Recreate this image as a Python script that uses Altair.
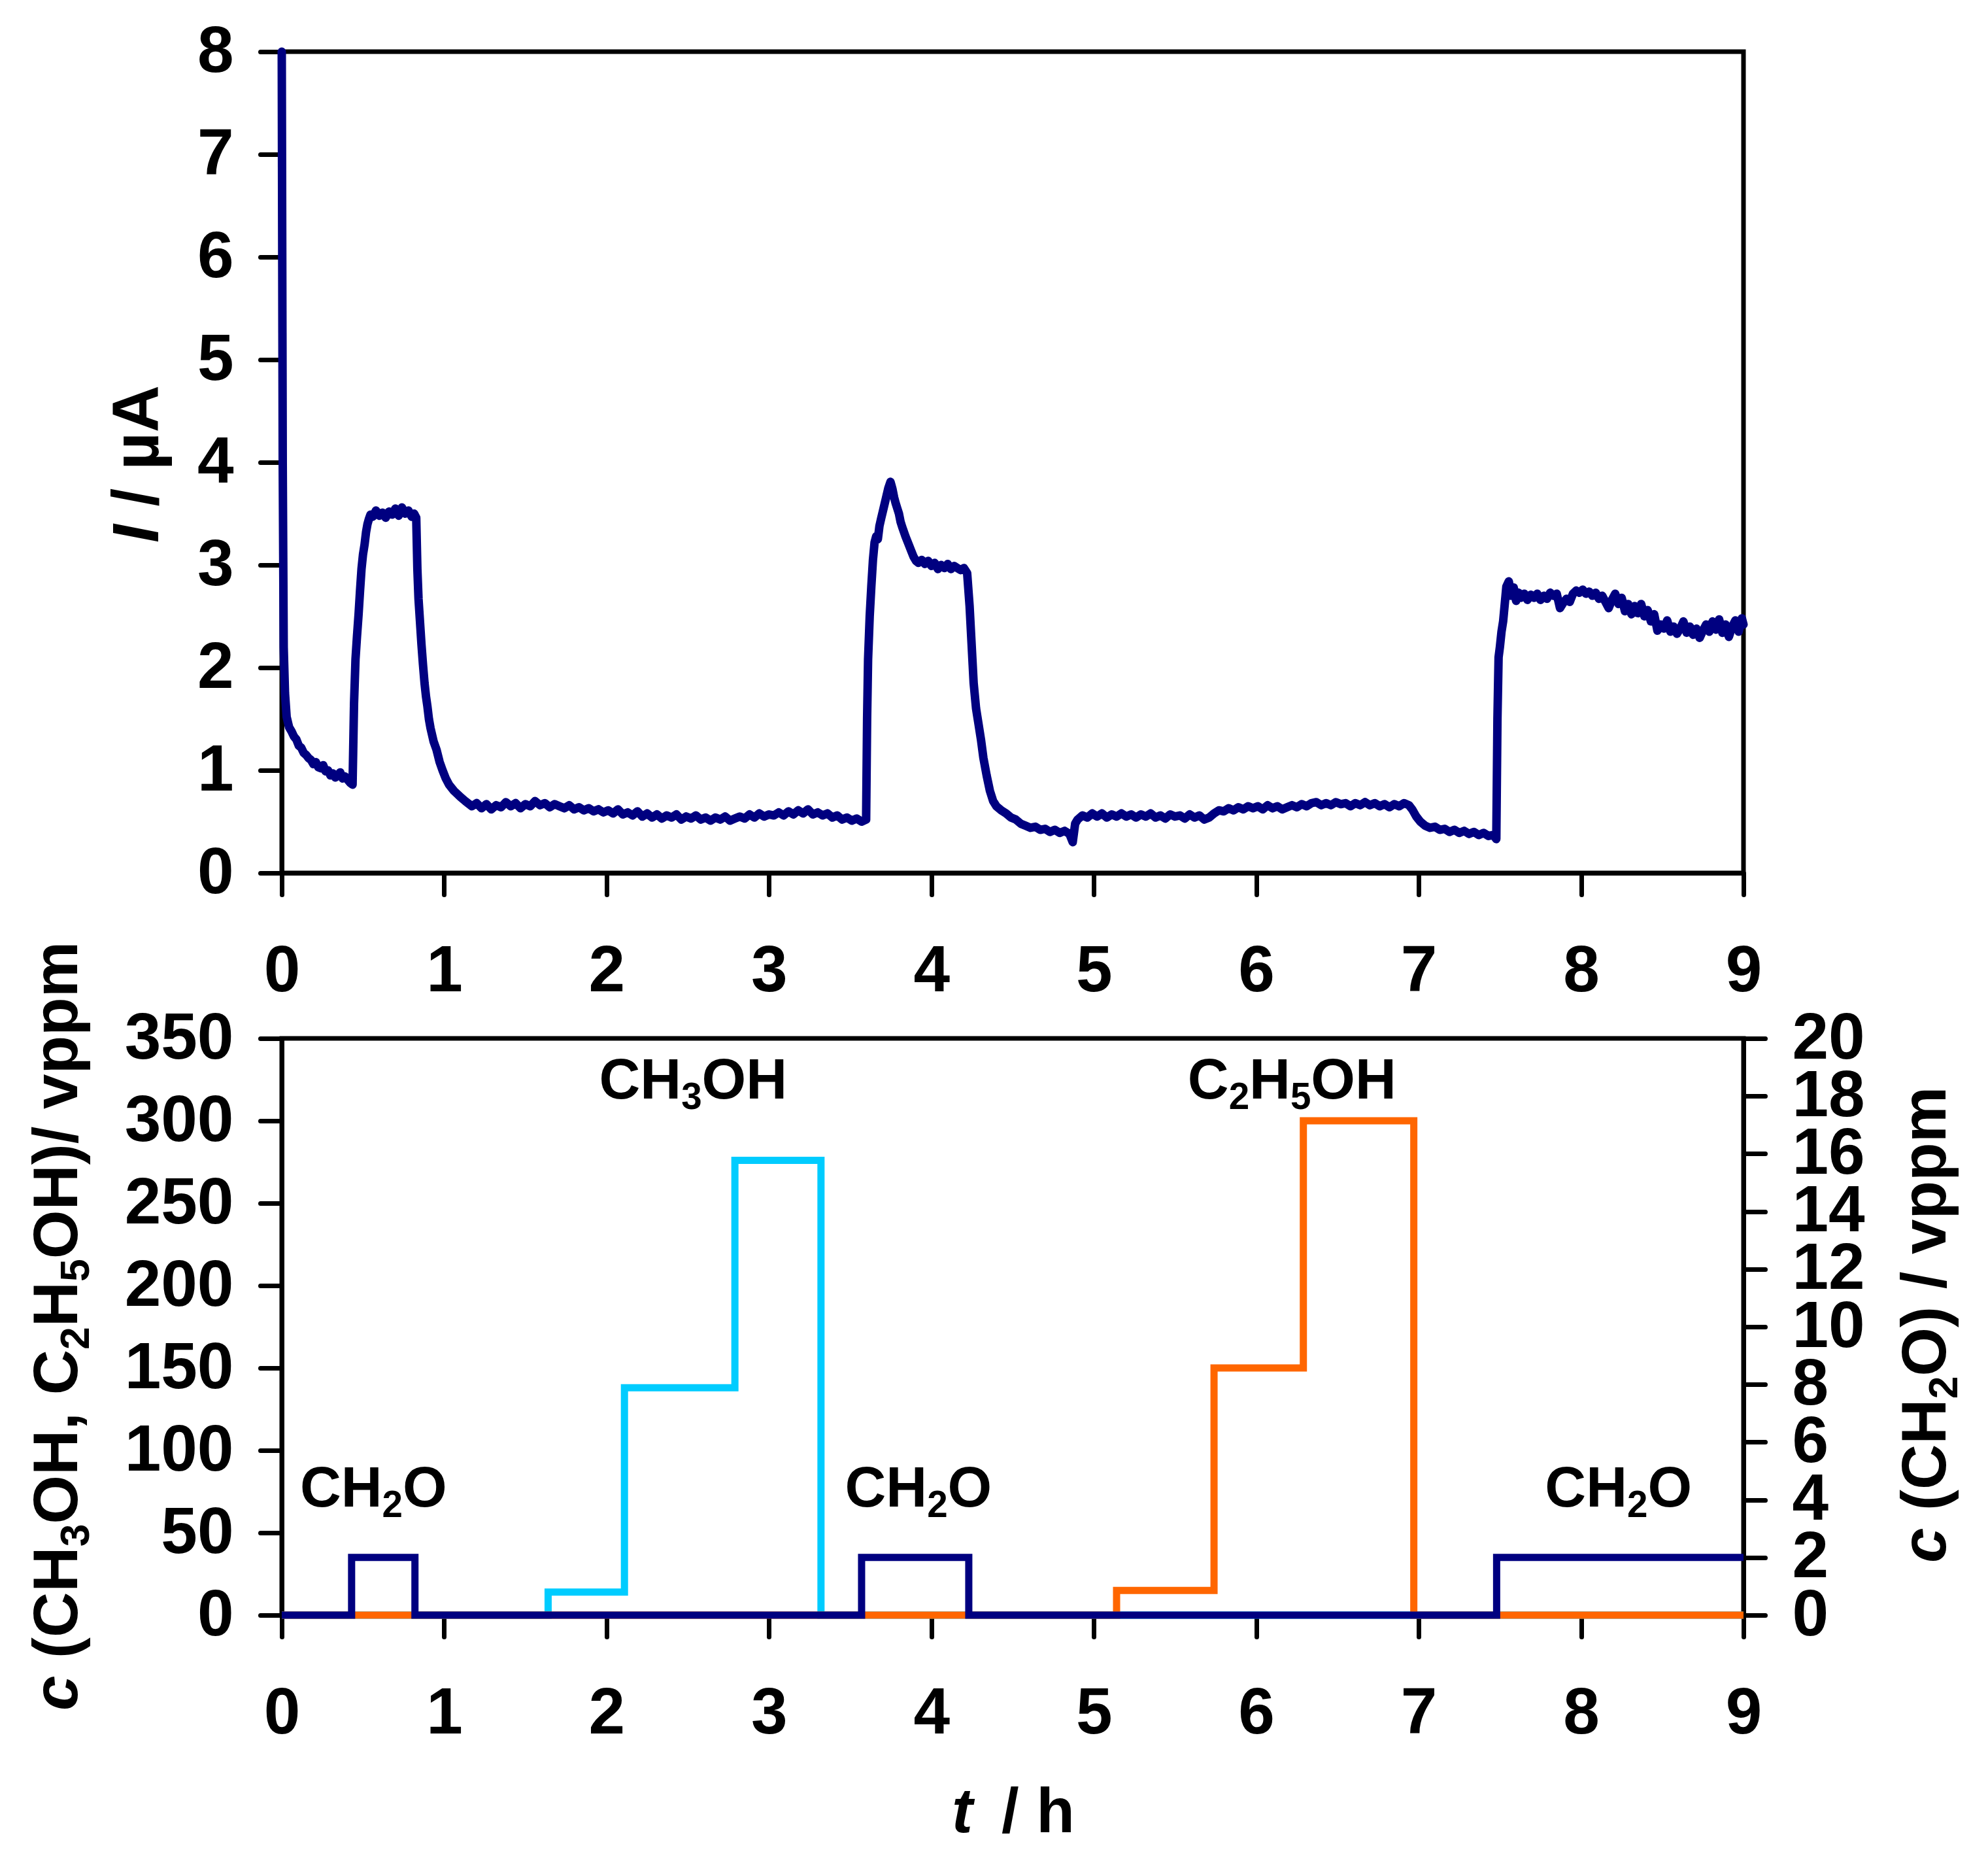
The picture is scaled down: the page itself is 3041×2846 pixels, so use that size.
import altair as alt
import pandas as pd

FONT = "Liberation Sans"
NAVY = "#000080"
CYAN = "#00CCFF"
ORANGE = "#FF6600"

# ---------------- top panel: sensor current I / µA vs t / h ----------------
t_top = [
    0.000, 0.006, 0.012, 0.020, 0.030, 0.045, 0.060, 0.075, 0.090, 0.105, 0.120, 0.135, 0.150, 0.165,
    0.180, 0.195, 0.210, 0.225, 0.240, 0.255, 0.270, 0.285, 0.300, 0.315, 0.330, 0.345, 0.360, 0.375,
    0.390, 0.405, 0.420, 0.436, 0.445, 0.454, 0.463, 0.473, 0.482, 0.491, 0.500, 0.510, 0.519, 0.528,
    0.537, 0.546, 0.560, 0.580, 0.600, 0.620, 0.640, 0.660, 0.680, 0.700, 0.720, 0.740, 0.760, 0.780,
    0.800, 0.815, 0.828, 0.835, 0.842, 0.851, 0.860, 0.870, 0.879, 0.888, 0.897, 0.906, 0.916, 0.935,
    0.953, 0.972, 0.990, 1.010, 1.030, 1.060, 1.100, 1.130, 1.170, 1.200, 1.230, 1.260, 1.290, 1.320,
    1.350, 1.380, 1.410, 1.440, 1.470, 1.500, 1.530, 1.560, 1.590, 1.620, 1.650, 1.680, 1.710, 1.740,
    1.770, 1.800, 1.830, 1.860, 1.890, 1.920, 1.950, 1.980, 2.010, 2.040, 2.070, 2.100, 2.130, 2.160,
    2.190, 2.220, 2.250, 2.280, 2.310, 2.340, 2.370, 2.400, 2.430, 2.460, 2.490, 2.520, 2.550, 2.580,
    2.610, 2.640, 2.670, 2.700, 2.730, 2.760, 2.790, 2.820, 2.850, 2.880, 2.910, 2.940, 2.970, 3.000,
    3.030, 3.060, 3.090, 3.120, 3.150, 3.180, 3.210, 3.240, 3.270, 3.300, 3.330, 3.360, 3.390, 3.420,
    3.450, 3.480, 3.510, 3.540, 3.570, 3.598, 3.604, 3.610, 3.620, 3.630, 3.640, 3.650, 3.660, 3.670,
    3.680, 3.690, 3.705, 3.720, 3.735, 3.748, 3.760, 3.770, 3.780, 3.790, 3.800, 3.810, 3.820, 3.840,
    3.860, 3.875, 3.890, 3.905, 3.920, 3.940, 3.960, 3.980, 4.000, 4.020, 4.040, 4.060, 4.080, 4.100,
    4.120, 4.140, 4.160, 4.180, 4.200, 4.220, 4.235, 4.245, 4.260, 4.275, 4.290, 4.305, 4.320, 4.340,
    4.360, 4.380, 4.400, 4.430, 4.460, 4.490, 4.520, 4.550, 4.580, 4.610, 4.640, 4.670, 4.700, 4.730,
    4.760, 4.790, 4.820, 4.850, 4.870, 4.885, 4.900, 4.930, 4.960, 4.990, 5.020, 5.050, 5.080, 5.110,
    5.140, 5.170, 5.200, 5.230, 5.260, 5.290, 5.320, 5.350, 5.380, 5.410, 5.440, 5.470, 5.500, 5.530,
    5.560, 5.590, 5.620, 5.650, 5.680, 5.710, 5.740, 5.770, 5.800, 5.830, 5.860, 5.890, 5.920, 5.950,
    5.980, 6.010, 6.040, 6.070, 6.100, 6.130, 6.160, 6.190, 6.220, 6.250, 6.280, 6.310, 6.340, 6.370,
    6.400, 6.430, 6.460, 6.490, 6.520, 6.550, 6.580, 6.610, 6.640, 6.670, 6.700, 6.730, 6.760, 6.790,
    6.820, 6.850, 6.880, 6.910, 6.940, 6.960, 6.985, 7.010, 7.040, 7.070, 7.100, 7.130, 7.160, 7.190,
    7.220, 7.250, 7.280, 7.310, 7.340, 7.370, 7.400, 7.430, 7.460, 7.478, 7.485, 7.492, 7.500, 7.510,
    7.520, 7.530, 7.540, 7.555, 7.570, 7.585, 7.600, 7.615, 7.630, 7.650, 7.670, 7.690, 7.710, 7.730,
    7.750, 7.770, 7.790, 7.810, 7.830, 7.850, 7.870, 7.890, 7.910, 7.930, 7.950, 7.970, 7.990, 8.010,
    8.030, 8.050, 8.070, 8.090, 8.110, 8.130, 8.150, 8.170, 8.190, 8.210, 8.230, 8.250, 8.270, 8.290,
    8.310, 8.330, 8.350, 8.370, 8.390, 8.410, 8.430, 8.450, 8.470, 8.490, 8.510, 8.530, 8.550, 8.570,
    8.590, 8.610, 8.630, 8.650, 8.670, 8.690, 8.710, 8.730, 8.750, 8.770, 8.790, 8.810, 8.830, 8.850,
    8.870, 8.890, 8.910, 8.930, 8.950, 8.970, 8.990, 9.000,
]
i_top = [
    8.00, 4.00, 2.20, 1.75, 1.52, 1.42, 1.38, 1.33, 1.30, 1.24, 1.22, 1.17, 1.15, 1.12,
    1.10, 1.06, 1.08, 1.03, 1.02, 1.05, 0.99, 1.00, 0.95, 0.97, 0.93, 0.95, 0.98, 0.92,
    0.94, 0.91, 0.88, 0.86, 1.65, 2.08, 2.30, 2.52, 2.75, 2.96, 3.10, 3.20, 3.32, 3.40,
    3.45, 3.49, 3.47, 3.53, 3.48, 3.51, 3.46, 3.52, 3.49, 3.55, 3.48, 3.56, 3.50, 3.53,
    3.47, 3.50, 3.46, 2.96, 2.67, 2.45, 2.23, 2.02, 1.85, 1.72, 1.62, 1.50, 1.41, 1.28,
    1.20, 1.08, 1.00, 0.92, 0.86, 0.80, 0.74, 0.70, 0.65, 0.68, 0.63, 0.67, 0.62, 0.66,
    0.64, 0.69, 0.65, 0.68, 0.63, 0.67, 0.65, 0.70, 0.66, 0.68, 0.64, 0.67, 0.65, 0.63,
    0.66, 0.62, 0.64, 0.61, 0.63, 0.60, 0.62, 0.59, 0.61, 0.58, 0.62, 0.57, 0.59, 0.56,
    0.60, 0.55, 0.58, 0.54, 0.57, 0.53, 0.56, 0.54, 0.57, 0.52, 0.55, 0.53, 0.56, 0.52,
    0.54, 0.51, 0.54, 0.52, 0.55, 0.51, 0.53, 0.55, 0.53, 0.57, 0.54, 0.58, 0.55, 0.57,
    0.56, 0.59, 0.56, 0.60, 0.57, 0.61, 0.58, 0.62, 0.57, 0.59, 0.56, 0.58, 0.54, 0.56,
    0.52, 0.54, 0.51, 0.53, 0.50, 0.52, 1.50, 2.08, 2.50, 2.79, 3.05, 3.22, 3.28, 3.25,
    3.38, 3.45, 3.55, 3.65, 3.75, 3.81, 3.74, 3.66, 3.60, 3.55, 3.50, 3.42, 3.37, 3.28,
    3.20, 3.14, 3.08, 3.04, 3.02, 3.05, 3.01, 3.04, 2.99, 3.02, 2.96, 3.00, 2.97, 3.01,
    2.96, 2.99, 2.97, 2.95, 2.97, 2.92, 2.60, 2.30, 1.85, 1.60, 1.45, 1.30, 1.12, 0.95,
    0.80, 0.70, 0.65, 0.61, 0.58, 0.54, 0.52, 0.48, 0.46, 0.44, 0.45, 0.42, 0.43, 0.40,
    0.42, 0.39, 0.41, 0.38, 0.30, 0.48, 0.52, 0.56, 0.54, 0.58, 0.55, 0.58, 0.54, 0.57,
    0.55, 0.58, 0.55, 0.57, 0.54, 0.57, 0.55, 0.58, 0.54, 0.56, 0.53, 0.57, 0.55, 0.56,
    0.53, 0.57, 0.54, 0.56, 0.52, 0.54, 0.58, 0.61, 0.60, 0.63, 0.61, 0.64, 0.62, 0.65,
    0.63, 0.65, 0.62, 0.66, 0.63, 0.65, 0.62, 0.64, 0.66, 0.64, 0.67, 0.65, 0.68, 0.69,
    0.66, 0.68, 0.66, 0.69, 0.67, 0.68, 0.65, 0.68, 0.66, 0.69, 0.66, 0.68, 0.65, 0.67,
    0.64, 0.67, 0.65, 0.68, 0.66, 0.62, 0.55, 0.50, 0.46, 0.44, 0.45, 0.42, 0.43, 0.40,
    0.42, 0.39, 0.41, 0.38, 0.40, 0.37, 0.39, 0.36, 0.37, 0.33, 1.50, 2.10, 2.20, 2.35,
    2.45, 2.62, 2.79, 2.84, 2.70, 2.78, 2.65, 2.73, 2.68, 2.72, 2.66, 2.71, 2.68, 2.72,
    2.66, 2.70, 2.67, 2.73, 2.70, 2.72, 2.58, 2.63, 2.67, 2.64, 2.72, 2.75, 2.73, 2.76,
    2.72, 2.74, 2.70, 2.73, 2.67, 2.70, 2.64, 2.58, 2.66, 2.72, 2.62, 2.68, 2.55, 2.62,
    2.52, 2.60, 2.53, 2.62, 2.50, 2.56, 2.45, 2.52, 2.36, 2.42, 2.38, 2.46, 2.35, 2.40,
    2.33, 2.38, 2.45, 2.34, 2.40, 2.32, 2.38, 2.29, 2.36, 2.42, 2.35, 2.45, 2.37, 2.47,
    2.34, 2.42, 2.30, 2.40, 2.46, 2.35, 2.48, 2.42,
]

# ---------------- bottom panel: dosing steps ----------------
t_ch3oh = [0.0, 1.64, 2.11, 2.79, 3.32, 9.0]
c_ch3oh = [0, 14, 138, 276, 0, 0]
t_c2h5oh = [0.0, 5.14, 5.74, 6.29, 6.97, 9.0]
c_c2h5oh = [0, 15, 150, 300, 0, 0]
t_ch2o = [0.0, 0.43, 0.82, 3.57, 4.23, 7.48, 9.0]
c_ch2o = [0, 2, 0, 2, 0, 2, 2]

# in-plot labels: text parts ("n" normal, "s" subscript, "i" italic)
label_parts = [
    [("CH", "n"), ("2", "s"), ("O", "n")],
    [("CH", "n"), ("3", "s"), ("OH", "n")],
    [("CH", "n"), ("2", "s"), ("O", "n")],
    [("C", "n"), ("2", "s"), ("H", "n"), ("5", "s"), ("OH", "n")],
    [("CH", "n"), ("2", "s"), ("O", "n")],
]
label_t = [0.565, 2.533, 3.92, 6.22, 8.23]
label_c = [66, 313.6, 66, 313.6, 66]

x_ticks = list(range(0, 10))
i_ticks = list(range(0, 9))
c_ticks = list(range(0, 351, 50))
ch2o_ticks = list(range(0, 21, 2))

title_top = [("I", "i"), (" / µA", "n")]
title_left = [("c", "i"), (" (CH", "n"), ("3", "s"), ("OH, C", "n"), ("2", "s"), ("H", "n"),
              ("5", "s"), ("OH)/ vppm", "n")]
title_right = [("c", "i"), (" (CH", "n"), ("2", "s"), ("O) / vppm", "n")]
title_x_t = [("t", "i")]
title_x_h = [("/ h", "n")]

# ------------- layout / style -------------
W = 2236
H1 = 1256
H2 = 882
LABEL_SIZE = 87
TITLE_SIZE = 96
TOP_TITLE_SIZE = 100
SUB_RATIO = 0.65
SUB_SHIFT = 0.19

# Arial/Liberation Sans Bold advance widths (em)
ADV = {" ": .278, "(": .333, ")": .333, ",": .278, "/": .278, "C": .722, "H": .722, "O": .778,
       "c": .556, "v": .556, "p": .611, "m": .889, "h": .611, "t": .333, "I": .278, "µ": .611,
       "A": .722}
for d in "0123456789":
    ADV[d] = .556


def part_width(s, style, size):
    fs = size * SUB_RATIO if style == "s" else size
    return sum(ADV.get(ch, .6) for ch in s) * fs


def xenc():
    return alt.X("t:Q", scale=alt.Scale(domain=[0, 9], nice=False, zero=False),
                 axis=alt.Axis(values=x_ticks, title=None, format="d"))


def text_layers(parts, size, start, angle=0, x=None, y=None, data=None):
    """One mark_text per part, laid out along the reading direction with dx offsets."""
    layers = []
    off = start
    for s, style in parts:
        lead = len(s) - len(s.lstrip(" "))
        off_draw = off + part_width(s[:lead], style, size)
        shown = s.lstrip(" ")
        fs = size * SUB_RATIO if style == "s" else size
        kw = dict(align="left", baseline="alphabetic", font=FONT, fontSize=fs,
                  fontWeight="bold", color="black", dx=off_draw)
        if style == "s":
            kw["dy"] = SUB_SHIFT * size
        if style == "i":
            kw["fontStyle"] = "italic"
        if angle:
            kw["angle"] = angle
        if data is None:
            ch = alt.Chart(pd.DataFrame({"s": [shown]})).mark_text(**kw).encode(
                text="s:N", x=alt.value(x), y=alt.value(y))
        else:
            d = data.copy()
            d["s"] = shown
            ch = alt.Chart(d).mark_text(**kw).encode(
                text="s:N", x=xenc(),
                y=alt.Y("c:Q", scale=alt.Scale(domain=[0, 350], nice=False), axis=None))
        layers.append(ch)
        off += part_width(s, style, size)
    return layers


df_top = pd.DataFrame({"t": t_top, "I": i_top})
df_ch3oh = pd.DataFrame({"t": t_ch3oh, "c": c_ch3oh})
df_c2h5oh = pd.DataFrame({"t": t_c2h5oh, "c": c_c2h5oh})
df_ch2o = pd.DataFrame({"t": t_ch2o, "c": c_ch2o})

top_line = alt.Chart(df_top).mark_line(
    color=NAVY, strokeWidth=13, strokeJoin="round", strokeCap="round"
).encode(
    x=xenc(),
    y=alt.Y("I:Q", scale=alt.Scale(domain=[0, 8], nice=False),
            axis=alt.Axis(values=i_ticks, title=None, format="d")),
)

top = alt.layer(
    top_line,
    *text_layers(title_top, TOP_TITLE_SIZE, 0, angle=270, x=-189, y=751),
).properties(width=W, height=H1)

ysc = alt.Scale(domain=[0, 350], nice=False)
cyan = alt.Chart(df_ch3oh).mark_line(interpolate="step-after", color=CYAN, strokeWidth=11).encode(
    x=xenc(),
    y=alt.Y("c:Q", scale=ysc, axis=alt.Axis(values=c_ticks, title=None, orient="left", format="d")),
)
orange = alt.Chart(df_c2h5oh).mark_line(interpolate="step-after", color=ORANGE, strokeWidth=11).encode(
    x=xenc(),
    y=alt.Y("c:Q", scale=ysc, axis=None),
)
navy = alt.Chart(df_ch2o).mark_line(interpolate="step-after", color=NAVY, strokeWidth=11).encode(
    x=xenc(),
    y=alt.Y("c:Q", scale=alt.Scale(domain=[0, 20], nice=False),
            axis=alt.Axis(values=ch2o_ticks, title=None, orient="right", format="d")),
)

label_layers = []
for parts, lt, lc in zip(label_parts, label_t, label_c):
    total = sum(part_width(s, st, LABEL_SIZE) for s, st in parts)
    label_layers += text_layers(parts, LABEL_SIZE, -total / 2,
                                data=pd.DataFrame({"t": [lt], "c": [lc]}))

bottom = alt.layer(
    cyan, orange, navy,
    *label_layers,
    *text_layers(title_left, TITLE_SIZE, 0, angle=270, x=-313, y=1028),
    *text_layers(title_right, TITLE_SIZE, 0, angle=270, x=2545, y=802),
    *text_layers(title_x_t, TITLE_SIZE, 0, x=1025, y=1214),
    *text_layers(title_x_h, TITLE_SIZE, 0, x=1101, y=1214),
).resolve_scale(y="independent").properties(width=W, height=H2)

chart = alt.vconcat(top, bottom, spacing=253, bounds="flush").properties(
    padding={"left": 29, "top": 17, "right": 10, "bottom": 10},
    background="white",
).configure_view(
    stroke="black", strokeWidth=7
).configure_axis(
    labelFont=FONT, labelFontSize=100, labelFontWeight="bold", labelColor="black",
    domainColor="black", domainWidth=7, tickColor="black", tickWidth=7, tickSize=33,
    grid=False, labelOverlap=False, labelFlush=False, tickCap="round",
).configure_axisX(labelPadding=68).configure_axisY(labelPadding=41)

chart.save("out.html", embed_options={"renderer": "svg", "actions": False})
